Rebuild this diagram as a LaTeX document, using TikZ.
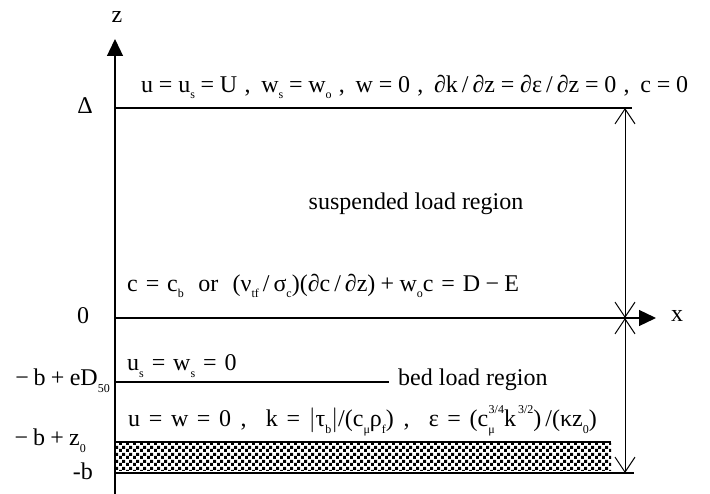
\documentclass[tikz,border=0pt]{standalone}
\usepackage{fontspec}
\setmainfont{Liberation Serif}
\usetikzlibrary{arrows.meta,patterns}
\pgfdeclarepatternformonly{bedgrain}{\pgfpointorigin}{\pgfpoint{7pt}{7pt}}{\pgfpoint{7pt}{7pt}}{%
  \pgfpathrectangle{\pgfpoint{0pt}{0pt}}{\pgfpoint{3.4pt}{3.4pt}}%
  \pgfpathrectangle{\pgfpoint{3.5pt}{3.5pt}}{\pgfpoint{3.4pt}{3.4pt}}%
  \pgfusepath{fill}}
\newcommand{\sbs}[1]{\raisebox{-0.28em}{\fontsize{12}{13}\selectfont #1}}
\newcommand{\sps}[1]{\raisebox{0.55em}{\fontsize{12}{13}\selectfont #1}}
\newcommand{\eqs}{\hspace{0.33em}=\hspace{0.33em}}
\newcommand{\eqt}{\hspace{0.24em}=\hspace{0.24em}}
\newcommand{\eqw}{\hspace{0.36em}=\hspace{0.36em}}
\newcommand{\cms}{\hspace{0.3em},\hspace{0.55em}}
\newcommand{\cmt}{\hspace{0.3em},\hspace{0.45em}}
\newcommand{\cmw}{\hspace{0.4em},\hspace{0.8em}}
\newcommand{\ops}[1]{\hspace{0.22em}#1\hspace{0.22em}}
\begin{document}
\begin{tikzpicture}[x=1pt,y=-1pt,
  every node/.style={font=\fontsize{24}{28}\selectfont, inner sep=0pt},
  axis/.style={line width=1.3pt,-{Triangle[length=17pt,width=16pt]}},
  bound/.style={line width=1.3pt},
  span/.style={line width=1pt,{Straight Barb[length=15pt,width=20pt]}-{Straight Barb[length=15pt,width=20pt]}},
  lbl/.style={anchor=east},
  cond/.style={anchor=west}]
\useasboundingbox (0,0) rectangle (710,494);
% coordinates
\coordinate (zb) at (115,494);
\coordinate (zt) at (115,39);
\coordinate (xl) at (115,318);
\coordinate (xr) at (656,318);
\coordinate (tl) at (115,108);
\coordinate (tr) at (632,108);
\coordinate (bl) at (115,382);
\coordinate (br) at (389,382);
\coordinate (zl) at (115,442);
\coordinate (zr) at (611,442);
\coordinate (ml) at (115,473);
\coordinate (mr) at (634,473);
\coordinate (a1) at (625,108);
\coordinate (a2) at (625,318);
\coordinate (a3) at (625,473);
% bed grains
\fill[pattern=bedgrain,pattern color=black] (115,443) rectangle (611,470);
% lines
\draw[bound] (tl) -- (tr);
\draw[bound] (bl) -- (br);
\draw[bound] (zl) -- (zr);
\draw[bound] (ml) -- (mr);
\draw[axis] (xl) -- (xr);
\draw[axis] (zb) -- (zt);
\draw[span] (a1) -- (a2);
\draw[span] (a2) -- (a3);
% axis labels
\node (zlab) at (117,17) {z};
\node (xlab) at (677,316) {x};
\node (Dlab) at (85,106) {Δ};
\node (0lab) at (83,316) {0};
\node[lbl] (eDlab) at (110,381) {−\hspace{0.2em}b\ops{+}eD\sbs{50}};
\node[lbl] (z0lab) at (86,441) {−\hspace{0.2em}b\ops{+}z\sbs{0}};
\node[lbl] (blab) at (93,471) {-b};
% conditions
\node[cond] (top) at (141,87) {u\eqt u\sbs{s}\eqt U\cmt w\sbs{s}\eqt w\sbs{o}\cmt w\eqt 0\cmt ∂k\,/\,∂z\eqt ∂ε\,/\,∂z\eqt 0\cmt c\eqt 0};
\node (susp) at (416,204) {suspended load region};
\node[cond] (cb) at (127,286) {c\eqs c\sbs{b}\hspace{0.6em}or\hspace{0.6em}(ν\sbs{tf}\,/\,σ\sbs{c})(∂c\,/\,∂z)\ops{+}w\sbs{o}c\eqs D\ops{−}E};
\node[cond] (us) at (127,366) {u\sbs{s}\eqs w\sbs{s}\eqs 0};
\node[cond] (bed) at (398,380) {bed load region};
\node[cond] (wall) at (128,421) {u\eqw w\eqw 0\cmw k\eqw$\bigl|$τ\sbs{b}$\bigr|$/(c\sbs{μ}ρ\sbs{f})\cmw ε\eqw (c\sbs{μ}\hspace{-0.25em}\sps{3/4}k\sps{\,3/2})\,/(κz\sbs{0})};
\end{tikzpicture}
\end{document}
